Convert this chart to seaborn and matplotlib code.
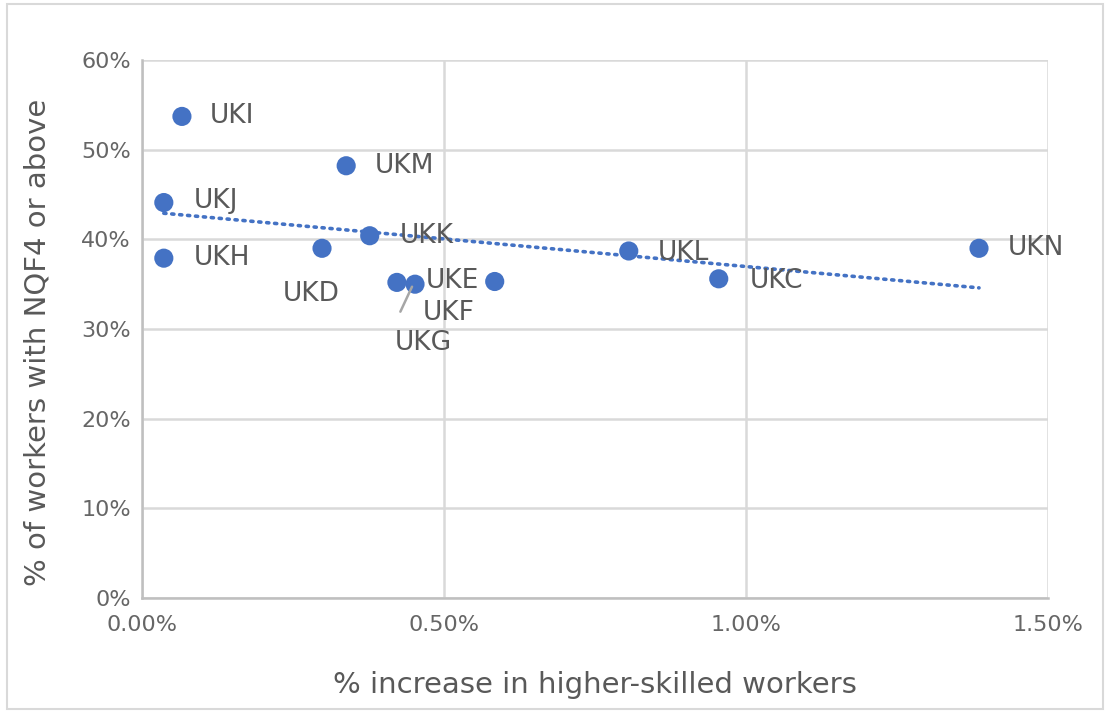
import matplotlib
matplotlib.use("Agg")
import matplotlib.pyplot as plt
from matplotlib.ticker import FuncFormatter
from matplotlib.patches import Rectangle
import seaborn as sns
import pandas as pd

# region codes and values (both in percent)
regions = ["UKI", "UKM", "UKJ", "UKH", "UKD", "UKK", "UKF", "UKG", "UKE", "UKL", "UKC", "UKN"]
increase = [0.066, 0.338, 0.036, 0.036, 0.298, 0.377, 0.422, 0.452, 0.584, 0.806, 0.955, 1.386]
nqf4 = [53.7, 48.2, 44.1, 37.9, 39.0, 40.4, 35.2, 35.0, 35.3, 38.7, 35.6, 39.0]

# label offsets in pixels (x right, y up), as the labels were placed
label_dx = [28, 29, 30, 30, -39, 30, 26, 8, -69, 29, 31, 29]
label_dy = [0, 0, 2, 0, -46, 0, -31, -59, 0, -2, -2, 0]

df = pd.DataFrame({"region": regions, "increase": increase, "nqf4": nqf4})

sns.set_style("white")
plt.rcParams["font.family"] = ["DejaVu Sans"]

fig = plt.figure(figsize=(11.1, 7.13), dpi=100)
ax = fig.add_axes([0.128, 0.161, 0.816, 0.755])

blue = "#4472C4"
grey_text = "#595959"

# trendline first so it sits under the markers
sns.regplot(data=df, x="increase", y="nqf4", scatter=False, ci=None, ax=ax,
            line_kws=dict(color=blue, linestyle=(0, (0.6, 1.6)), linewidth=2.6,
                          dash_capstyle="round"))
sns.scatterplot(data=df, x="increase", y="nqf4", ax=ax, color=blue, s=190,
                edgecolor="none", zorder=3)

for i, r in enumerate(regions):
    ha = "center" if r == "UKG" else "left"
    ax.annotate(r, (increase[i], nqf4[i]), xytext=(label_dx[i], label_dy[i]),
                textcoords="offset pixels", ha=ha, va="center",
                fontsize=19, color=grey_text, zorder=4)

# leader line for the UKG label
ig = regions.index("UKG")
ax.annotate("", (increase[ig] - 0.003, nqf4[ig]), xytext=(-14, -30),
            textcoords="offset pixels",
            arrowprops=dict(arrowstyle="-", color="#a6a6a6", lw=1.8))

ax.set_xlim(0, 1.5)
ax.set_ylim(0, 60)
ax.set_xticks([0, 0.5, 1.0, 1.5])
ax.set_yticks(range(0, 61, 10))
ax.xaxis.set_major_formatter(FuncFormatter(lambda v, p: f"{v:.2f}%"))
ax.yaxis.set_major_formatter(FuncFormatter(lambda v, p: f"{v:.0f}%"))
ax.tick_params(axis="both", labelsize=16, labelcolor="#666666", length=0)
ax.tick_params(axis="x", pad=12)
ax.tick_params(axis="y", pad=8)

ax.grid(True, color="#d9d9d9", linewidth=1.8)
ax.set_axisbelow(True)
for side in ["top", "right"]:
    ax.spines[side].set_visible(False)
for side in ["left", "bottom"]:
    ax.spines[side].set_color("#bfbfbf")
    ax.spines[side].set_linewidth(1.8)

ax.set_xlabel("% increase in higher-skilled workers", fontsize=21, color=grey_text, labelpad=26)
ax.set_ylabel("% of workers with NQF4 or above", fontsize=21, color=grey_text)
ax.yaxis.set_label_coords(-0.1, 0.476)

# chart area border
fig.patches.append(Rectangle((0.006, 0.006), 0.988, 0.988, transform=fig.transFigure,
                             fill=False, edgecolor="#d9d9d9", linewidth=1.5))

fig.savefig("out.png", dpi=100)
